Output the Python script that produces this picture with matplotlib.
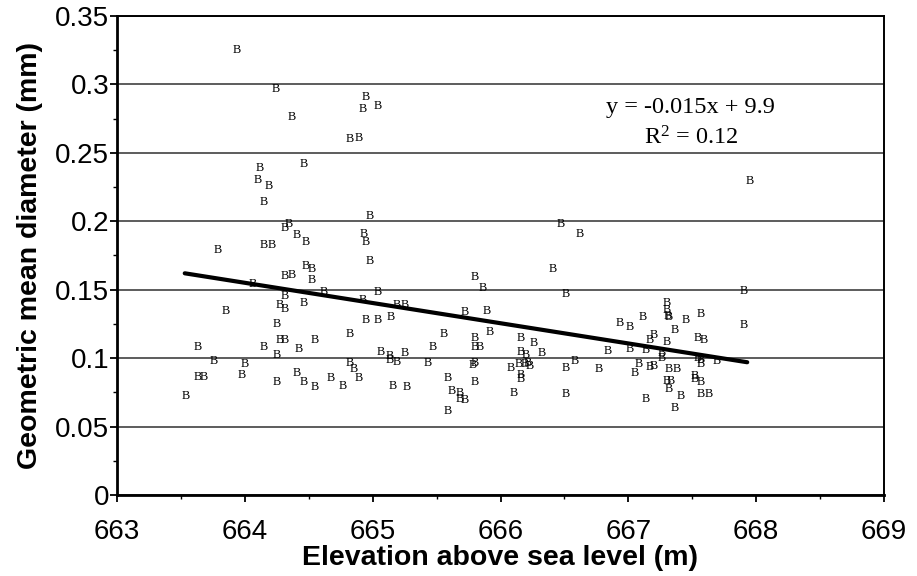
import matplotlib
matplotlib.use("Agg")
import matplotlib.pyplot as plt
from matplotlib.ticker import MultipleLocator, FuncFormatter

# elevation (m) and geometric mean diameter (mm)
elevation = [
    663.94, 664.24, 664.37, 664.95, 664.92, 665.04, 664.82, 664.89, 664.12, 664.46,
    664.10, 664.19, 664.15, 664.98, 664.34, 664.31, 664.41, 664.48, 664.93, 664.95,
    664.15, 664.21, 663.79, 664.98, 664.48, 664.52, 664.31, 664.37, 664.52, 664.06,
    664.31, 664.27, 664.31, 664.46, 664.62, 664.92, 665.04, 663.85, 664.95, 665.04,
    665.14, 664.25, 664.82, 663.63, 664.15, 664.27, 664.31, 664.42, 664.55, 664.25,
    663.76, 664.00, 663.98, 663.63, 663.68, 663.54, 664.25, 664.41, 664.46, 664.55,
    664.67, 664.77, 664.82, 664.85, 664.89, 665.06, 665.13, 665.13, 665.19, 665.25,
    665.16, 665.27, 665.19, 665.25, 665.80, 665.86, 666.41, 666.51, 665.72, 665.89,
    665.56, 665.92, 665.80, 665.80, 665.84, 665.47, 665.43, 665.80, 665.78, 665.59,
    665.80, 665.62, 665.68, 665.68, 665.72, 665.59, 666.16, 666.26, 666.16, 666.20,
    666.32, 666.08, 666.14, 666.19, 666.23, 666.21, 666.16, 666.16, 666.10, 666.51,
    666.58, 666.51, 666.77, 666.84, 666.93, 667.01, 667.11, 667.01, 667.14, 667.17,
    667.20, 667.08, 667.05, 667.17, 667.20, 667.14, 667.30, 667.30, 667.31, 667.32,
    667.45, 667.36, 667.30, 667.26, 667.26, 667.54, 667.32, 667.38, 667.30, 667.33,
    667.32, 667.41, 667.36, 667.52, 667.52, 667.57, 667.57, 667.57, 667.63, 667.90,
    667.90, 667.59, 667.54, 667.57, 667.57, 667.69, 667.95, 666.47, 666.62,
]
diameter = [
    0.325, 0.297, 0.276, 0.291, 0.282, 0.284, 0.260, 0.261, 0.239, 0.242,
    0.230, 0.226, 0.214, 0.204, 0.198, 0.195, 0.190, 0.185, 0.191, 0.185,
    0.183, 0.183, 0.179, 0.171, 0.167, 0.165, 0.160, 0.161, 0.157, 0.154,
    0.1455, 0.139, 0.136, 0.140, 0.148, 0.1425, 0.1486, 0.1345, 0.128, 0.128,
    0.130, 0.1248, 0.118, 0.108, 0.108, 0.113, 0.113, 0.1067, 0.113, 0.102,
    0.098, 0.0955, 0.0877, 0.0862, 0.0862, 0.0721, 0.0824, 0.089, 0.0824, 0.079,
    0.0853, 0.0797, 0.0962, 0.0919, 0.0853, 0.1048, 0.1016, 0.0987, 0.097, 0.1036,
    0.080, 0.079, 0.139, 0.139, 0.1596, 0.1515, 0.165, 0.147, 0.134, 0.1345,
    0.118, 0.119, 0.115, 0.108, 0.108, 0.108, 0.0967, 0.0967, 0.095, 0.0855,
    0.0826, 0.0758, 0.0744, 0.070, 0.0694, 0.0614, 0.1145, 0.111, 0.1048, 0.1023,
    0.1036, 0.093, 0.0955, 0.0955, 0.0945, 0.0965, 0.0877, 0.0846, 0.0743, 0.0926,
    0.098, 0.0738, 0.092, 0.105, 0.126, 0.123, 0.130, 0.107, 0.106, 0.113,
    0.117, 0.0958, 0.089, 0.0933, 0.0945, 0.0700, 0.140, 0.135, 0.131, 0.130,
    0.128, 0.1206, 0.112, 0.1036, 0.1000, 0.115, 0.092, 0.092, 0.0836, 0.0836,
    0.0773, 0.0720, 0.0634, 0.087, 0.0846, 0.1320, 0.0824, 0.0738, 0.0738, 0.1490,
    0.1245, 0.113, 0.1000, 0.0987, 0.0958, 0.098, 0.2295, 0.198, 0.191,
]

# fitted trend line as drawn in the figure
trend_x = [663.53, 667.93]
trend_y = [0.162, 0.097]

x_ticks = [663, 664, 665, 666, 667, 668, 669]
y_ticks = [0, 0.05, 0.1, 0.15, 0.2, 0.25, 0.3, 0.35]

sans = "Liberation Sans"
serif = "Liberation Serif"

plt.rcParams["mathtext.fontset"] = "custom"
plt.rcParams["mathtext.rm"] = serif
plt.rcParams["mathtext.it"] = serif + ":italic"

fig = plt.figure(figsize=(9.17, 5.76), dpi=100)
ax = fig.add_axes([117 / 917, 81 / 576, 767 / 917, 479 / 576])

# the points are drawn as letter "B" markers
for xv, yv in zip(elevation, diameter):
    ax.text(xv, yv, "B", ha="center", va="center", fontsize=8.8,
            family=serif, color="black", zorder=3)

ax.plot(trend_x, trend_y, color="black", lw=3.0, solid_capstyle="round", zorder=4)

ax.set_xlim(663, 669)
ax.set_ylim(0, 0.35)
ax.set_xticks(x_ticks)
ax.set_yticks(y_ticks)
ax.xaxis.set_minor_locator(MultipleLocator(0.5))
ax.yaxis.set_minor_locator(MultipleLocator(0.025))
ax.yaxis.set_major_formatter(FuncFormatter(lambda v, p: "%g" % round(v, 3)))

ax.yaxis.grid(True, which="major", color="#303030", lw=1.1)
ax.set_axisbelow(True)

for s in ["left", "bottom"]:
    ax.spines[s].set_linewidth(2.0)
for s in ["top", "right"]:
    ax.spines[s].set_linewidth(1.4)

ax.tick_params(axis="both", which="major", direction="out", length=5, width=1.3,
               labelsize=20)
ax.tick_params(axis="both", which="minor", direction="out", length=3, width=1.0)
ax.tick_params(axis="y", which="major", pad=0.5)
ax.tick_params(axis="x", which="major", pad=12)
for lab in ax.get_xticklabels() + ax.get_yticklabels():
    lab.set_family(sans)

ax.set_xlabel("Elevation above sea level (m)", fontsize=20.5, fontweight="bold",
              family=sans, labelpad=0)
ax.set_ylabel("Geometric mean diameter (mm)", fontsize=20.5, fontweight="bold",
              family=sans, labelpad=9)

ax.text(0.748, 0.808, "y = -0.015x + 9.9", transform=ax.transAxes, ha="center",
        va="center", fontsize=17.5, family=serif)
ax.text(0.748, 0.745, "R$^2$ = 0.12", transform=ax.transAxes, ha="center",
        va="center", fontsize=17.5, family=serif)

fig.savefig("out.png", dpi=100)
plt.close(fig)
